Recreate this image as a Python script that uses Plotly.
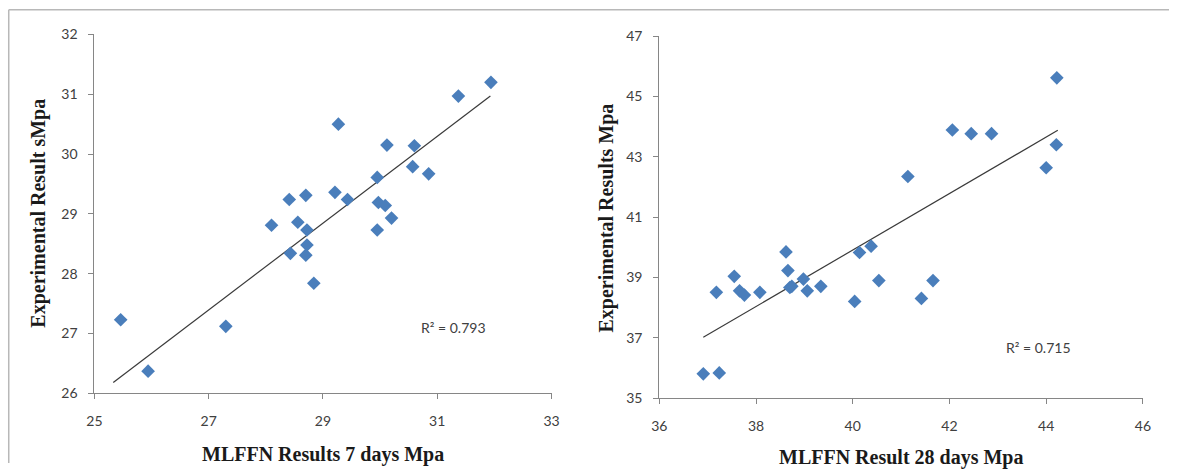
import plotly.graph_objects as go

# figure size; the page adds the browser's default 8px body margin and the
# captured view (figure + margins) is fitted back to 1177x471
W, H = 1177, 471
PAD = 8
VIEW_W, VIEW_H = W + 2 * PAD, H + 2 * PAD
SX, SY = W / VIEW_W, H / VIEW_H

# 7-day strength: MLFFN prediction vs experimental (MPa)
pred_7 = [25.46, 25.94, 27.30, 28.10, 28.41, 28.43, 28.56, 28.70, 28.72, 28.72,
          28.70, 28.84, 29.21, 29.27, 29.43, 29.95, 29.97, 30.09, 30.20, 29.95,
          30.12, 30.57, 30.60, 30.85, 31.37, 31.94]
exp_7 = [27.23, 26.37, 27.12, 28.81, 29.24, 28.34, 28.86, 29.31, 28.73, 28.48,
         28.31, 27.84, 29.36, 30.50, 29.24, 29.61, 29.19, 29.14, 28.93, 28.73,
         30.15, 29.79, 30.14, 29.67, 30.97, 31.20]

# 28-day strength: MLFFN prediction vs experimental (MPa)
pred_28 = [36.91, 37.24, 37.18, 37.55, 37.66, 37.76, 38.08, 38.62, 38.66, 38.70,
           38.74, 38.98, 39.06, 39.34, 40.04, 40.14, 40.38, 40.54, 41.14, 41.42,
           41.66, 42.06, 42.45, 42.87, 44.00, 44.21, 44.22]
exp_28 = [35.81, 35.84, 38.51, 39.04, 38.56, 38.42, 38.51, 39.85, 39.23, 38.67,
          38.71, 38.95, 38.56, 38.71, 38.21, 39.83, 40.04, 38.90, 42.35, 38.31,
          38.90, 43.89, 43.77, 43.77, 42.64, 43.40, 45.62]

# linear trendlines (slope, intercept) and the x span each one covers
trend_7 = (0.7258, 7.796)
trend_span_7 = [25.33, 31.93]
trend_28 = (0.9359, 2.476)
trend_span_28 = [36.91, 44.24]

r2_7 = "0.793"
r2_28 = "0.715"

x_ticks_7 = [25, 27, 29, 31, 33]
y_ticks_7 = [26, 27, 28, 29, 30, 31, 32]
x_ticks_28 = [36, 38, 40, 42, 44, 46]
y_ticks_28 = [35, 37, 39, 41, 43, 45, 47]

MARKER = "#4a7ebb"
AXIS = "#868686"
TICKTXT = "#404040"


def px_x(p):
    """screen column -> paper fraction"""
    return (p / SX - PAD) / W


def px_y(p):
    """screen row -> paper fraction"""
    return 1 - (p / SY - PAD) / H


fig = go.Figure()

for x, y, (k, b), span, xa, ya in [
        (pred_7, exp_7, trend_7, trend_span_7, "x", "y"),
        (pred_28, exp_28, trend_28, trend_span_28, "x2", "y2")]:
    fig.add_trace(go.Scatter(x=span, y=[k * v + b for v in span], mode="lines",
                             xaxis=xa, yaxis=ya,
                             line=dict(color="#3a3a3a", width=1.2),
                             showlegend=False, hoverinfo="skip"))
    fig.add_trace(go.Scatter(x=x, y=y, mode="markers", xaxis=xa, yaxis=ya,
                             marker=dict(symbol="diamond", size=10.5, color=MARKER,
                                         line=dict(width=0)),
                             showlegend=False))

axis_common = dict(showgrid=False, zeroline=False, showline=True,
                   linecolor=AXIS, linewidth=1, ticks="outside", ticklen=5,
                   tickcolor=AXIS, tickwidth=1,
                   tickfont=dict(family="Lato", size=14, color=TICKTXT))

fig.update_layout(
    width=W, height=H,
    margin=dict(l=0, r=0, t=0, b=0),
    paper_bgcolor="white", plot_bgcolor="white",
    xaxis=dict(axis_common, domain=[px_x(94.3), px_x(551.5)], range=[25, 33],
               tickvals=x_ticks_7, anchor="y", ticklabelstandoff=10),
    yaxis=dict(axis_common, domain=[px_y(393.3), px_y(33.3)], range=[26, 32],
               tickvals=y_ticks_7, anchor="x", ticklabelstandoff=8),
    xaxis2=dict(axis_common, domain=[px_x(659.3), px_x(1143)], range=[36, 46],
                tickvals=x_ticks_28, anchor="y2", ticklabelstandoff=10),
    yaxis2=dict(axis_common, domain=[px_y(398.3), px_y(35)], range=[35, 47],
                tickvals=y_ticks_28, anchor="x2", ticklabelstandoff=8),
)

title_font = dict(family="Liberation Serif", size=20, color="#1a1a1a")
annots = [
    dict(text="<b>MLFFN Results 7 days Mpa</b>", x=px_x(323), y=px_y(455)),
    dict(text="<b>MLFFN Result 28 days Mpa</b>", x=px_x(901), y=px_y(458)),
    dict(text="<b>Experimental Result sMpa</b>", x=px_x(38), y=px_y(213), textangle=-90),
    dict(text="<b>Experimental Results Mpa</b>", x=px_x(607), y=px_y(217), textangle=-90),
]
for a in annots:
    fig.add_annotation(xref="paper", yref="paper", showarrow=False,
                       xanchor="center", yanchor="middle", font=title_font, **a)

r2_font = dict(family="Lato", size=14, color="#404040")
for txt, cx, cy in [(f"R² = {r2_7}", 453, 327), (f"R² = {r2_28}", 1039, 347)]:
    fig.add_annotation(xref="paper", yref="paper", showarrow=False, font=r2_font,
                       xanchor="center", yanchor="middle",
                       text=txt, x=px_x(cx), y=px_y(cy))

# outer frame around both panels (top and left edges)
fx, fy = 0.75 / W, 1 - 0.75 / H
frame = dict(type="line", xref="paper", yref="paper",
             line=dict(color="#b8b8b8", width=1.5))
fig.add_shape(frame, x0=fx, x1=1, y0=fy, y1=fy)
fig.add_shape(frame, x0=fx, x1=fx, y0=fy, y1=0)

fig.write_html("out.html")
